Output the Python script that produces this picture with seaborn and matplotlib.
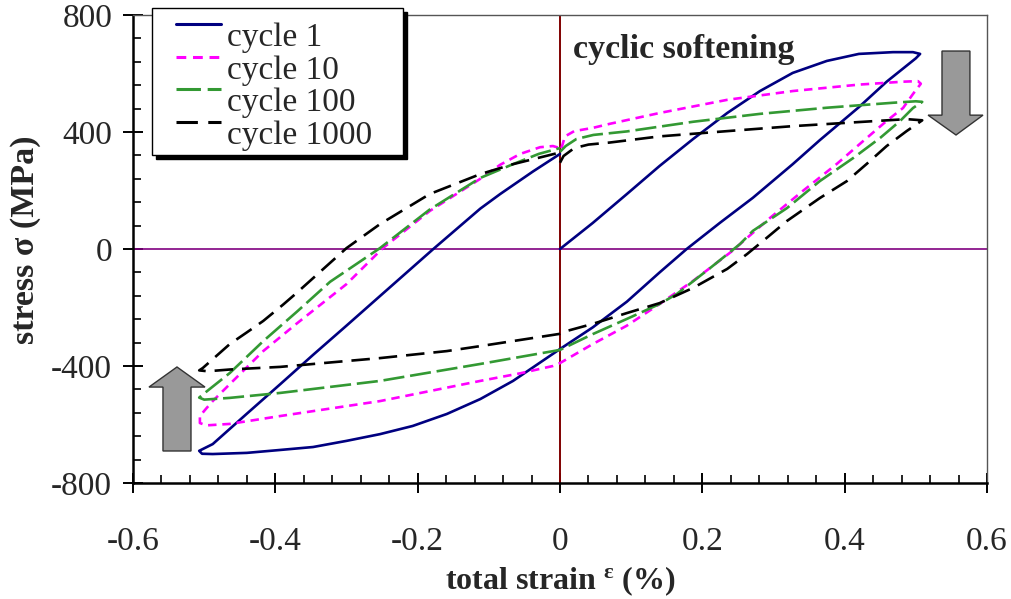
import numpy as np
import pandas as pd
import seaborn as sns
import matplotlib.pyplot as plt
from matplotlib.patches import Polygon
from matplotlib.ticker import MultipleLocator
from matplotlib.legend_handler import HandlerLine2D

# ---- hysteresis loops: total strain (%) and stress (MPa), in path order ----
c1_strain = [0, 0.046, 0.094, 0.14, 0.187, 0.235, 0.281, 0.327, 0.375, 0.42, 0.468, 0.496, 0.506,
             0.500, 0.459, 0.42, 0.365, 0.327, 0.271, 0.225, 0.178, 0.14, 0.094, 0.046, 0,
             -0.066, -0.112, -0.159, -0.207, -0.253, -0.3, -0.347, -0.393, -0.44, -0.488, -0.503, -0.507,
             -0.488, -0.44, -0.393, -0.347, -0.3, -0.253, -0.178, -0.112, -0.084, -0.038, 0]
c1_stress = [0, 89, 188, 284, 376, 465, 540, 602, 643, 667, 673, 673, 667,
             652, 572, 485, 372, 290, 175, 90, 0, -80, -180, -268, -342,
             -451, -513, -564, -605, -633, -656, -677, -687, -697, -701, -700, -690,
             -667, -563, -462, -362, -262, -161, 0, 138, 188, 265, 325]

c10_strain = [0.002, 0.007, 0.02, 0.046, 0.07, 0.14, 0.235, 0.327, 0.42, 0.482, 0.503, 0.507,
              0.496, 0.482, 0.459, 0.426, 0.389, 0.341, 0.295, 0.253, 0.243, 0.187, 0.14, 0.094, 0.046, 0,
              -0.01, -0.056, -0.112, -0.253, -0.393, -0.464, -0.497, -0.506,
              -0.506, -0.497, -0.488, -0.464, -0.417, -0.37, -0.3, -0.249, -0.183, -0.112, -0.084,
              -0.056, -0.028, -0.01, 0]
c10_stress = [345, 385, 403, 414, 428, 465, 510, 540, 562, 572, 574, 565,
              530, 482, 438, 369, 291, 198, 106, 17, -5, -109, -188, -262, -325, -390,
              -400, -425, -451, -520, -571, -598, -603, -595,
              -571, -545, -520, -462, -349, -255, -120, 3, 130, 240, 288,
              325, 348, 352, 345]

c100_strain = [0, 0.008, 0.023, 0.047, 0.094, 0.187, 0.281, 0.375, 0.468, 0.5, 0.509,
               0.496, 0.478, 0.45, 0.412, 0.365, 0.319, 0.271, 0.253, 0.211, 0.164, 0.14, 0.094, 0.046, 0,
               -0.112, -0.253, -0.393, -0.464, -0.5, -0.507,
               -0.496, -0.464, -0.417, -0.37, -0.323, -0.253, -0.183, -0.112, -0.066, -0.03, 0]
c100_stress = [332, 352, 376, 390, 402, 435, 462, 483, 500, 505, 503,
               482, 438, 380, 311, 232, 140, 62, 17, -65, -154, -188, -239, -291, -345,
               -393, -451, -492, -509, -515, -508,
               -486, -424, -315, -215, -112, 3, 135, 243, 290, 325, 345]

c1000_strain = [0, 0.005, 0.02, 0.04, 0.07, 0.14, 0.235, 0.327, 0.42, 0.487, 0.509,
                0.487, 0.459, 0.431, 0.403, 0.365, 0.319, 0.285, 0.263, 0.235, 0.187, 0.14, 0.094, 0.046, 0.01, 0,
                -0.112, -0.159, -0.253, -0.3, -0.393, -0.464, -0.495, -0.507,
                -0.502, -0.464, -0.44, -0.417, -0.389, -0.37, -0.3, -0.253, -0.183, -0.112, -0.066, 0]
c1000_stress = [295, 318, 345, 357, 364, 385, 403, 420, 434, 444, 440,
                403, 352, 291, 232, 174, 96, 27, -17, -68, -133, -185, -219, -256, -280, -290,
                -332, -349, -373, -383, -403, -412, -418, -415,
                -407, -325, -285, -246, -190, -150, 3, 85, 188, 256, 290, 330]

cycle_names = ["cycle 1", "cycle 10", "cycle 100", "cycle 1000"]
cycle_colors = ["#000080", "#ff00ff", "#339933", "#000000"]

x_ticks = [-0.6, -0.4, -0.2, 0, 0.2, 0.4, 0.6]
x_tick_labels = ["-0.6", "-0.4", "-0.2", "0", "0.2", "0.4", "0.6"]
y_ticks = [-800, -400, 0, 400, 800]
y_tick_labels = ["-800", "-400", "0", "400", "800"]

# ---- long-form table, keeping the drawing order of each loop ----
frames = []
for name, eps, sig in zip(cycle_names,
                          [c1_strain, c10_strain, c100_strain, c1000_strain],
                          [c1_stress, c10_stress, c100_stress, c1000_stress]):
    frames.append(pd.DataFrame({"strain": eps, "stress": sig, "cycle": name,
                                "step": np.arange(len(eps))}))
df = pd.concat(frames, ignore_index=True)

sns.set_style("white")
plt.rcParams["font.family"] = ["Liberation Serif", "DejaVu Serif"]
plt.rcParams["mathtext.fontset"] = "custom"
plt.rcParams["mathtext.rm"] = "Liberation Serif"
plt.rcParams["mathtext.it"] = "Liberation Serif:italic"
plt.rcParams["mathtext.bf"] = "Liberation Serif:bold"
plt.rcParams["axes.unicode_minus"] = False

fig = plt.figure(figsize=(10.12, 5.99), dpi=100)
ax = fig.add_axes([133 / 1012, 116 / 599, 854 / 1012, 468 / 599])

# zero reference lines
ax.axhline(0, color="#800080", lw=1.2, zorder=1)
ax.axvline(0, color="#800000", lw=1.4, zorder=1)

dash_styles = {"cycle 1": "", "cycle 10": (3.2, 2.2), "cycle 100": (8, 2.2), "cycle 1000": (7, 3.4)}
sns.lineplot(data=df, x="strain", y="stress", hue="cycle", style="cycle",
             hue_order=cycle_names, style_order=cycle_names,
             palette=dict(zip(cycle_names, cycle_colors)), dashes=dash_styles,
             sort=False, estimator=None, lw=1.9, ax=ax, zorder=3)

ax.set_xlim(-0.6, 0.6)
ax.set_ylim(-800, 800)
ax.set_xticks(x_ticks, x_tick_labels)
ax.set_yticks(y_ticks, y_tick_labels)
ax.xaxis.set_minor_locator(MultipleLocator(0.04))
ax.yaxis.set_minor_locator(MultipleLocator(80))
ax.tick_params(which="major", direction="inout", length=14, width=1.4, color="black",
               labelsize=24, bottom=True, left=True, top=False, right=False)
ax.tick_params(axis="x", which="major", pad=24)
ax.tick_params(axis="y", which="major", pad=8)
ax.tick_params(which="minor", direction="in", length=5.5, width=1.2, color="black",
               bottom=True, left=True, top=False, right=False)

for side in ["left", "bottom"]:
    ax.spines[side].set_linewidth(1.8)
    ax.spines[side].set_color("black")
for side in ["top", "right"]:
    ax.spines[side].set_linewidth(1.0)
    ax.spines[side].set_color("#555555")

ax.set_xlabel(r"total strain $^{\mathbf{ε}}$ (%)", fontsize=23, fontweight="bold")
ax.set_ylabel("stress σ (MPa)", fontsize=24.5, fontweight="bold")
ax.xaxis.set_label_coords(0.5, -0.175)
ax.yaxis.set_label_coords(-0.108, 0.52)

ax.text(0.515, 0.908, "cyclic softening", transform=ax.transAxes,
        fontsize=24.5, fontweight="bold", va="baseline", ha="left")

# block arrows showing the direction of softening
arrow_kw = dict(transform=ax.transAxes, closed=True, facecolor="#999999",
                edgecolor="#333333", lw=1.0, clip_on=False, zorder=4)
ax.add_patch(Polygon([(0.9473, 0.923), (0.980, 0.923), (0.980, 0.786), (0.9953, 0.786),
                      (0.9637, 0.7436), (0.931, 0.786), (0.9473, 0.786)], **arrow_kw))
ax.add_patch(Polygon([(0.0351, 0.0684), (0.0679, 0.0684), (0.0679, 0.205), (0.0843, 0.205),
                      (0.0515, 0.2479), (0.0187, 0.205), (0.0351, 0.205)], **arrow_kw))


class RaisedLine(HandlerLine2D):
    """Legend line sample drawn a little above the label's centre."""

    def create_artists(self, legend, orig_handle, xdescent, ydescent, width, height,
                       fontsize, trans):
        return super().create_artists(legend, orig_handle, xdescent, ydescent - 15,
                                      width, height, fontsize, trans)


# legend with a solid drop shadow; a tiny blank title gives extra room at the top
old = ax.get_legend()
handles = old.legend_handles
labels = [t.get_text() for t in old.get_texts()]
old.remove()
for h in handles:
    h.set_linewidth(2.2)
leg = ax.legend(handles, labels, loc="upper left", title=" ", title_fontsize=6,
                bbox_to_anchor=(152 / 1012, 1 - 155 / 599, 251 / 1012, 147 / 599),
                bbox_transform=fig.transFigure, mode="expand", borderaxespad=0, fontsize=24,
                frameon=True, fancybox=False, framealpha=1, edgecolor="black",
                shadow={"color": "black", "alpha": 1, "ox": 3, "oy": -3},
                handler_map={h: RaisedLine(xpad=0.585) for h in handles},
                handlelength=1.94, handletextpad=0.18, borderpad=0.14, labelspacing=0.06)
leg.get_frame().set_linewidth(1.0)
leg.set_zorder(5)

fig.savefig("out.png", dpi=100)
